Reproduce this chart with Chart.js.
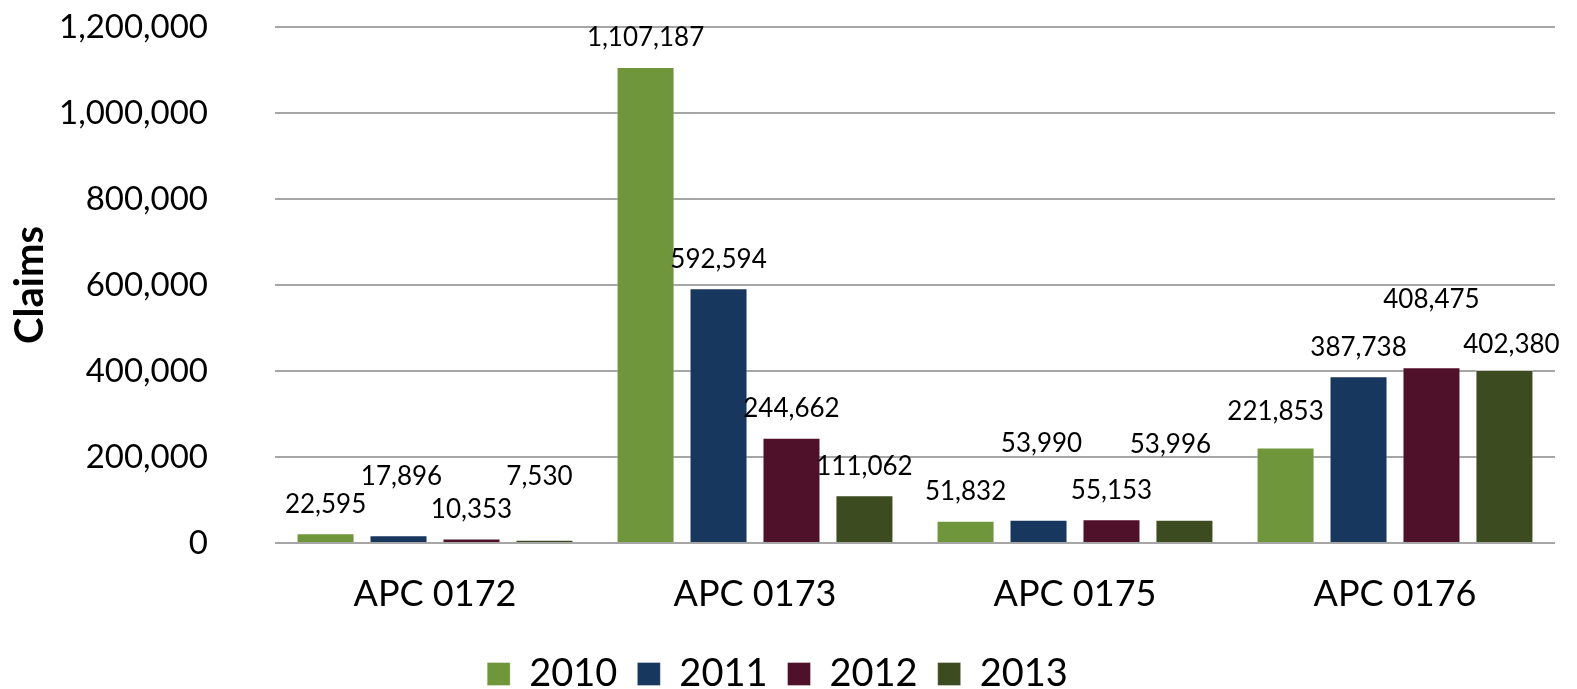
<!DOCTYPE html>
<html>
<head>
<meta charset="utf-8">
<script src="https://cdn.jsdelivr.net/npm/chart.js@4.4.1/dist/chart.umd.min.js"></script>
<style>
  html, body { margin: 0; padding: 0; background: #fff; }
  #wrap { width: 1577px; height: 689px; position: relative; }
</style>
</head>
<body>
<div id="wrap"><canvas id="chartClaims"></canvas></div>
<script>
// ── Data ───────────────────────────────────────
const categories = ['APC 0172', 'APC 0173', 'APC 0175', 'APC 0176'];
const years      = ['2010', '2011', '2012', '2013'];
const claims2010 = [22595, 1107187, 51832, 221853];
const claims2011 = [17896, 592594, 53990, 387738];
const claims2012 = [10353, 244662, 55153, 408475];
const claims2013 = [7530, 111062, 53996, 402380];
const yTicks     = [0, 200000, 400000, 600000, 800000, 1000000, 1200000];

const colors = ['#70963C', '#17375E', '#4F1129', '#3D4B20'];

// label nudges in px [dx, lift] per series/category (Excel moved overlapping labels)
const labelNudge = [
  [[0, 0], [0, 0], [0, 0], [-10, 7]],
  [[3, 30], [0, 0], [3, 47], [0, 0]],
  [[0, 0], [0, 0], [0, 0], [0, 39]],
  [[-5, 34], [0, 0], [-14, 46], [7, -4]]
];

const fmt = v => v.toLocaleString('en-US');
const FONT = 'Lato, "Open Sans", sans-serif';

const seriesData = [claims2010, claims2011, claims2012, claims2013];

new Chart(document.getElementById('chartClaims'), {
  type: 'bar',
  data: {
    labels: categories,
    datasets: years.map((y, i) => ({
      label: y,
      data: seriesData[i],
      backgroundColor: colors[i],
      borderColor: 'rgba(255,255,255,.35)',
      borderWidth: 1,
      categoryPercentage: 0.912,
      barPercentage: 0.795
    }))
  },
  options: {
    responsive: true, maintainAspectRatio: false, animation: false,
    layout: { padding: { top: 0, right: 22, left: 0, bottom: 0 } },
    plugins: {
      legend: {
        position: 'bottom',
        labels: {
          color: '#000', boxWidth: 23, boxHeight: 23, padding: 20,
          font: { family: FONT, size: 38 }
        }
      },
      tooltip: { enabled: false }
    },
    scales: {
      x: {
        grid: { display: false, drawTicks: false },
        border: { display: false },
        ticks: { color: '#000', padding: 30, font: { family: FONT, size: 36 } },
        afterFit: s => { s.height = 92; }
      },
      y: {
        min: 0, max: 1200000,
        afterBuildTicks: s => { s.ticks = yTicks.map(v => ({ value: v })); },
        grid: { color: '#A6A6A6', lineWidth: 2, drawTicks: false },
        border: { display: false },
        ticks: { color: '#000', padding: 67, font: { family: FONT, size: 33 }, callback: v => fmt(v) },
        title: { display: true, text: 'Claims', color: '#000', padding: { top: 6, bottom: 0 },
                 font: { family: FONT, size: 40, weight: 'bold' } },
        afterFit: s => { s.width = 275; s.paddingTop = 27; s.paddingBottom = 0; }
      }
    }
  },
  plugins: [{
    id: 'legend-height',
    afterInit(chart) {
      const lg = chart.legend;
      if (!lg) return;
      const origFit = lg.fit;
      lg.fit = function () { origFit.call(this); this.height = 54; };
    }
  }, {
    id: 'bar-values',
    afterDatasetsDraw(chart) {
      const c = chart.ctx;
      c.save();
      c.font = '26px ' + FONT;
      c.fillStyle = '#000';
      c.textAlign = 'center';
      c.textBaseline = 'middle';
      chart.data.datasets.forEach((ds, di) => {
        chart.getDatasetMeta(di).data.forEach((bar, i) => {
          const [dx, lift] = labelNudge[di][i];
          c.fillText(fmt(ds.data[i]), bar.x + dx, bar.y - 29 - lift);
        });
      });
      c.restore();
    }
  }]
});
</script>
</body>
</html>
